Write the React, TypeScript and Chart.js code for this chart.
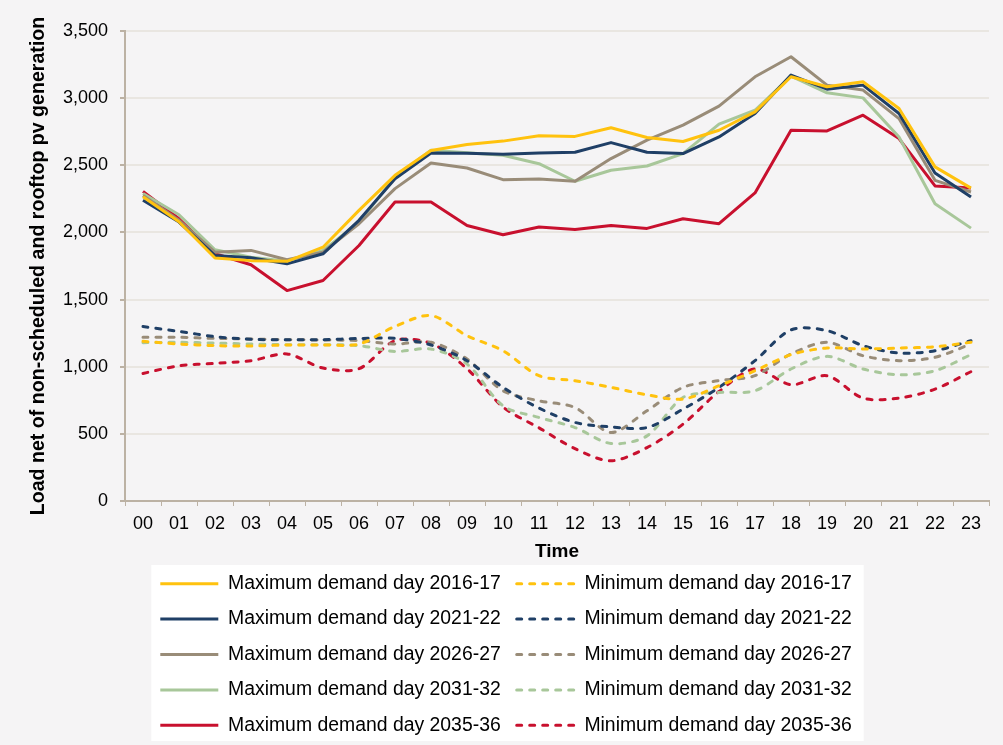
import React, { useEffect, useRef } from "react";
import { Chart, registerables } from "chart.js";

Chart.register(...registerables);

// ---- Data ----
const hours = [
  "00", "01", "02", "03", "04", "05", "06", "07", "08", "09", "10", "11",
  "12", "13", "14", "15", "16", "17", "18", "19", "20", "21", "22", "23",
];

const yMin = 0;
const yMax = 3500;
const yStep = 500;

const maxDemand201617 = [2265, 2080, 1810, 1790, 1785, 1890, 2164, 2425, 2610, 2655, 2680, 2720, 2715, 2780, 2707, 2677, 2761, 2898, 3159, 3085, 3122, 2923, 2488, 2330];
const maxDemand202122 = [2239, 2077, 1828, 1811, 1766, 1841, 2090, 2400, 2592, 2590, 2582, 2592, 2597, 2669, 2597, 2587, 2711, 2886, 3172, 3067, 3097, 2886, 2443, 2264];
const maxDemand202627 = [2275, 2090, 1853, 1866, 1796, 1853, 2065, 2326, 2517, 2480, 2393, 2398, 2381, 2550, 2687, 2799, 2940, 3159, 3308, 3097, 3060, 2848, 2388, 2301];
const maxDemand203132 = [2290, 2132, 1871, 1816, 1786, 1866, 2075, 2413, 2612, 2594, 2575, 2512, 2381, 2463, 2495, 2587, 2806, 2910, 3164, 3040, 3002, 2711, 2214, 2032];
const maxDemand203536 = [2306, 2102, 1841, 1759, 1567, 1642, 1903, 2226, 2226, 2052, 1983, 2040, 2022, 2052, 2030, 2102, 2065, 2294, 2761, 2756, 2873, 2699, 2346, 2331];

const minDemand201617 = [1189, 1169, 1157, 1154, 1162, 1162, 1169, 1300, 1381, 1231, 1119, 933, 896, 846, 791, 759, 858, 970, 1090, 1139, 1132, 1139, 1149, 1182];
const minDemand202122 = [1299, 1263, 1224, 1204, 1201, 1201, 1210, 1211, 1162, 1045, 846, 692, 585, 552, 547, 684, 846, 1045, 1274, 1269, 1157, 1102, 1119, 1194];
const minDemand202627 = [1219, 1219, 1211, 1206, 1201, 1199, 1194, 1169, 1182, 1057, 821, 746, 696, 510, 672, 846, 896, 933, 1095, 1182, 1082, 1045, 1070, 1169];
const minDemand203132 = [1179, 1182, 1176, 1169, 1164, 1164, 1157, 1114, 1132, 1020, 709, 622, 547, 428, 485, 771, 808, 821, 983, 1077, 983, 940, 970, 1090];
const minDemand203536 = [950, 1007, 1025, 1045, 1095, 990, 985, 1194, 1174, 985, 700, 545, 390, 299, 398, 572, 815, 983, 866, 933, 766, 766, 833, 963];

const seriesLabels = [
  "Maximum demand day 2016-17", "Minimum demand day 2016-17",
  "Maximum demand day 2021-22", "Minimum demand day 2021-22",
  "Maximum demand day 2026-27", "Minimum demand day 2026-27",
  "Maximum demand day 2031-32", "Minimum demand day 2031-32",
  "Maximum demand day 2035-36", "Minimum demand day 2035-36",
];

const seriesValues = [
  maxDemand201617, minDemand201617,
  maxDemand202122, minDemand202122,
  maxDemand202627, minDemand202627,
  maxDemand203132, minDemand203132,
  maxDemand203536, minDemand203536,
];

const yearColors = ["#FFC20E", "#1F3F66", "#998C78", "#A8C79A", "#C8102E"];

const BG = "#F5F4F5";
const GRID = "#E9E6E1";
const AXIS = "#BCB2A4";
const FONT = "'Liberation Sans', Arial, sans-serif";

export default function App() {
  const canvasRef = useRef<HTMLCanvasElement>(null);

  useEffect(() => {
    document.body.style.margin = "0";
    const canvas = canvasRef.current;
    if (!canvas) return;

    const backgroundPlugin = {
      id: "bgAndLegendBox",
      beforeDraw(chart: any) {
        const { ctx } = chart;
        ctx.save();
        ctx.fillStyle = BG;
        ctx.fillRect(0, 0, chart.width, chart.height);
        const boxes = chart.legend && chart.legend.legendHitBoxes;
        if (boxes && boxes.length) {
          let l = Infinity, t = Infinity, r = -Infinity, b = -Infinity;
          boxes.forEach((h: any) => {
            l = Math.min(l, h.left);
            t = Math.min(t, h.top);
            r = Math.max(r, h.left + h.width);
            b = Math.max(b, h.top + h.height);
          });
          ctx.fillStyle = "#FFFFFF";
          ctx.fillRect(l - 9, t - 9, r - l + 21, b - t + 15);
        }
        ctx.restore();
      },
    };

    const datasets = seriesValues.map((vals, i) => {
      const isMin = i % 2 === 1;
      const color = yearColors[Math.floor(i / 2)];
      return {
        label: seriesLabels[i],
        data: vals,
        borderColor: color,
        backgroundColor: color,
        borderWidth: 3,
        borderDash: isMin ? [5, 8] : [],
        borderCapStyle: isMin ? "round" : "butt",
        borderJoinStyle: "round",
        tension: isMin ? 0.3 : 0,
        pointRadius: 0,
        pointHoverRadius: 0,
        fill: false,
      };
    });

    const chart = new Chart(canvas, {
      type: "line",
      data: { labels: hours, datasets: datasets as any },
      options: {
        animation: false,
        responsive: false,
        maintainAspectRatio: false,
        layout: { padding: { top: 31, left: 23, right: 14, bottom: 0 } },
        plugins: {
          legend: {
            position: "bottom",
            labels: {
              usePointStyle: true,
              pointStyle: "line",
              pointStyleWidth: 58,
              padding: 16,
              color: "#000",
              font: { family: FONT, size: 19.4 },
              generateLabels(ch: any) {
                return ch.data.datasets.map((ds: any, i: number) => ({
                  text: ds.label,
                  datasetIndex: i,
                  fillStyle: ds.borderColor,
                  strokeStyle: ds.borderColor,
                  lineWidth: 3,
                  lineDash: ds.borderDash,
                  lineDashOffset: 0,
                  lineCap: ds.borderCapStyle,
                  lineJoin: "round",
                  pointStyle: "line",
                  hidden: false,
                  fontColor: "#000",
                }));
              },
            },
          },
          tooltip: { enabled: false },
        },
        scales: {
          x: {
            offset: true,
            grid: {
              display: true,
              drawOnChartArea: false,
              drawTicks: true,
              tickLength: 5,
              tickColor: AXIS,
              offset: true,
            },
            border: { display: true, color: AXIS, width: 2 },
            ticks: {
              color: "#000",
              padding: 7,
              maxRotation: 0,
              autoSkip: false,
              font: { family: FONT, size: 18 },
            },
            title: {
              display: true,
              text: "Time",
              color: "#000",
              font: { family: FONT, size: 19, weight: "bold" },
              padding: { top: 0, bottom: -5 },
            },
            afterFit(scale: any) {
              scale.height = 57;
            },
          },
          y: {
            min: yMin,
            max: yMax,
            grid: {
              color: GRID,
              lineWidth: 2,
              drawTicks: true,
              tickLength: 5,
              tickColor: AXIS,
            },
            border: { display: true, color: AXIS, width: 2 },
            ticks: {
              stepSize: yStep,
              color: "#000",
              padding: 12,
              font: { family: FONT, size: 18 },
              callback: (v: any) => Number(v).toLocaleString("en-US"),
            },
            title: {
              display: true,
              text: "Load net of non-scheduled and rooftop pv generation",
              color: "#000",
              font: { family: FONT, size: 19.6, weight: "bold" },
              padding: { top: 4, bottom: 0 },
            },
            afterFit(scale: any) {
              scale.width = 102;
            },
          },
        },
      },
      plugins: [backgroundPlugin],
    });

    return () => chart.destroy();
  }, []);

  return (
    <div style={{ width: 1003, height: 745, background: BG }}>
      <canvas ref={canvasRef} width={1003} height={745} style={{ display: "block" }} />
    </div>
  );
}
